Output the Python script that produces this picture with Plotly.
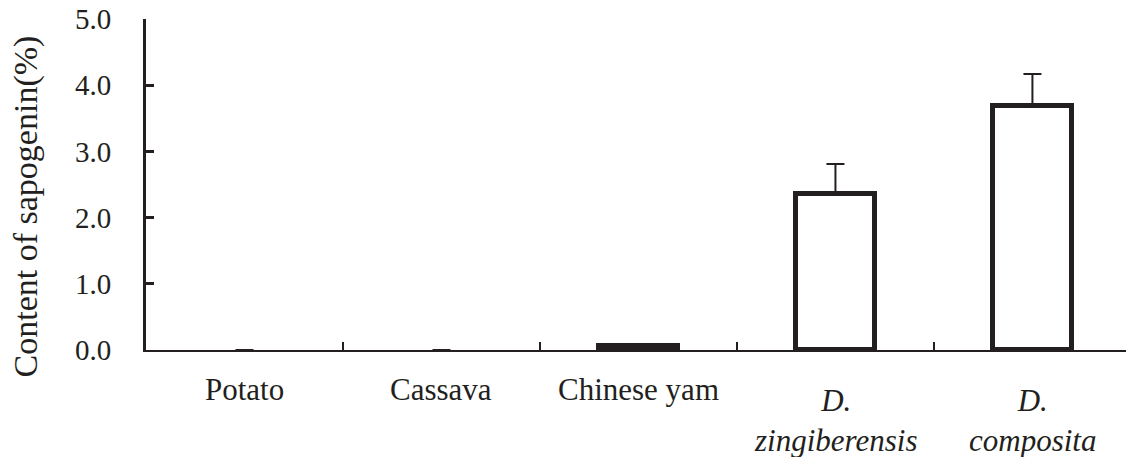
import plotly.graph_objects as go

# Sapogenin content by source material
categories = ["Potato", "Cassava", "Chinese yam", "D. zingiberensis", "D. composita"]
labels = ["Potato", "Cassava", "Chinese yam",
          "<i>D.</i><br><i>zingiberensis</i>", "<i>D.</i><br><i>composita</i>"]
content = [0.0, 0.0, 0.06, 2.35, 3.68]
error_plus = [None, None, None, 0.46, 0.49]
y_ticks = [0.0, 1.0, 2.0, 3.0, 4.0, 5.0]
y_ticklabels = ["0.0", "1.0", "2.0", "3.0", "4.0", "5.0"]

INK = "#231f20"
FONT = "Liberation Serif, Times New Roman, serif"

x_pos = list(range(len(categories)))
# empty (zero-height) bars leave no mark on the axis
outline = [5 if v > 0 else 0 for v in content]
visible_bar = [1 if v > 0 else 0 for v in content]
# upper whiskers only
error_minus = [None if e is None else 0 for e in error_plus]

fig = go.Figure()
fig.add_trace(go.Bar(
    x=x_pos,
    y=content,
    width=0.4,
    marker=dict(color="white", opacity=visible_bar,
                line=dict(color=INK, width=outline)),
    error_y=dict(type="data", array=error_plus, arrayminus=error_minus,
                 symmetric=False, color=INK, thickness=2, width=9),
    hoverinfo="skip",
    showlegend=False,
))

# category labels under the axis
for xi, lab in zip(x_pos, labels):
    two_line = "<br>" in lab
    fig.add_annotation(
        x=xi, xref="x",
        y=-0.212 if two_line else -0.118, yref="paper",
        text=lab, showarrow=False,
        xanchor="center", yanchor="middle",
        font=dict(family=FONT, size=31, color=INK),
    )

# y-axis title
fig.add_annotation(
    x=-0.122, xref="paper", y=0.435, yref="paper",
    text="Content of sapogenin(%)", textangle=-90, showarrow=False,
    xanchor="center", yanchor="middle",
    font=dict(family=FONT, size=34, color=INK),
)

fig.update_layout(
    width=1126, height=457,
    margin=dict(l=146, r=0, t=19, b=107),
    paper_bgcolor="white", plot_bgcolor="white",
    bargap=0,
    font=dict(family=FONT, color=INK),
)
fig.update_xaxes(
    range=[-0.5, 4.475],
    tickmode="array", tickvals=[0.5, 1.5, 2.5, 3.5], ticktext=["", "", "", ""],
    ticks="inside", ticklen=8, tickwidth=2, tickcolor=INK,
    showline=True, linecolor=INK, linewidth=2,
    showgrid=False, zeroline=False, fixedrange=True,
)
fig.update_yaxes(
    range=[0, 5],
    tickmode="array", tickvals=y_ticks, ticktext=y_ticklabels,
    ticks="inside", ticklen=8, tickwidth=3, tickcolor=INK,
    showline=True, linecolor=INK, linewidth=3,
    showgrid=False, zeroline=False, fixedrange=True,
    tickfont=dict(family=FONT, size=29, color=INK),
    ticklabelstandoff=26,
)

fig.write_html("out.html", config={"displayModeBar": False})
